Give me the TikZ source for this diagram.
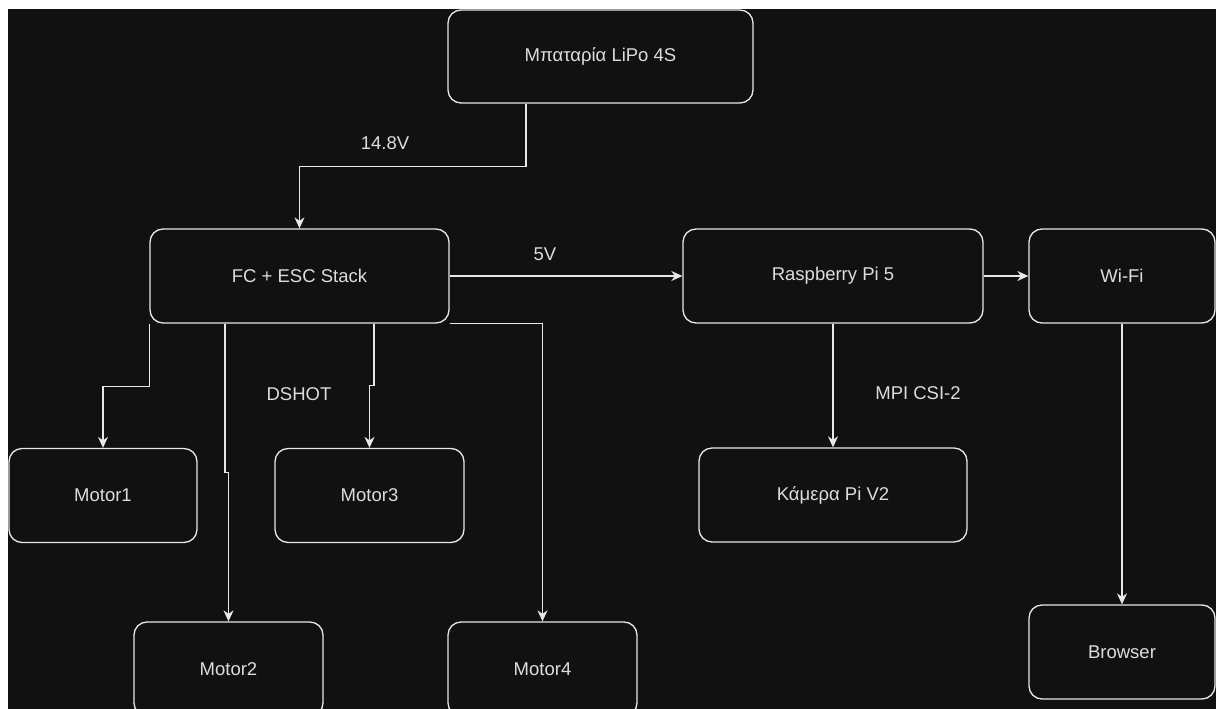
\documentclass[tikz,border=0pt]{standalone}
\usepackage{fontspec}
\setmainfont{Liberation Sans}
\usetikzlibrary{arrows.meta}
\definecolor{bgdark}{HTML}{111111}
\definecolor{strokec}{HTML}{E8E8E8}
\definecolor{textc}{HTML}{DDDDDD}
\begin{document}
\begin{tikzpicture}[x=1pt,y=-1pt,
  box/.style={draw=strokec, line width=1.3pt, rounded corners=13pt, fill=bgdark,
    minimum height=94pt, text=textc, font=\fontsize{18.5}{22}\selectfont, inner sep=0pt},
  lbl/.style={text=textc, font=\fontsize{18.5}{22}\selectfont, inner sep=1pt},
  arr/.style={draw=strokec, line width=1.3pt, -{Stealth[length=11pt,width=10pt,inset=3.5pt]}}]
\useasboundingbox (0,0) rectangle (1216,709);
\fill[white] (0,0) rectangle (1216,709);
\fill[bgdark] (8,9) rectangle (1216,709);

\node[box, minimum width=305pt, minimum height=93pt] (bat) at (600.5,56.5) {Μπαταρία LiPo 4S};
\node[box, minimum width=299pt] (fc) at (299.5,276) {FC + ESC Stack};
\node[box, minimum width=300pt] (rpi) at (833,276) {Raspberry Pi 5};
\node[box, minimum width=186pt] (wifi) at (1122,276) {Wi-Fi};
\node[box, minimum width=268pt] (cam) at (833,495) {Κάμερα Pi V2};
\node[box, minimum width=186pt] (browser) at (1122,652) {Browser};
\node[box, minimum width=188pt] (m1) at (103,495.5) {Motor1};
\node[box, minimum width=189pt] (m3) at (369.5,495.5) {Motor3};
\node[box, minimum width=189pt] (m2) at (228.5,669) {Motor2};
\node[box, minimum width=189pt] (m4) at (542.5,669) {Motor4};

\node[lbl] (l148) at (385,143) {14.8V};
\node[lbl] (l5v) at (545,254) {5V};
\node[lbl] (ldshot) at (299,394) {DSHOT};
\node[lbl] (lmpi) at (918,393) {MPI CSI-2};

\draw[arr] ([xshift=-74.5pt]bat.south) -- ++(0,63) -| (fc.north);
\draw[arr] (fc.east) -- (rpi.west);
\draw[arr] (rpi.east) -- (wifi.west);
\draw[arr] (rpi.south) -- (cam.north);
\draw[arr] (wifi.south) -- (browser.north);
\draw[arr] (fc.south west) -- ++(0,63) -| (m1.north);
\draw[arr] ([xshift=-74.5pt]fc.south) -- ++(0,149) -| (m2.north);
\draw[arr] ([xshift=74.5pt]fc.south) -- ++(0,62) -| (m3.north);
\draw[arr] (fc.south east) -| (m4.north);
\end{tikzpicture}
\end{document}
